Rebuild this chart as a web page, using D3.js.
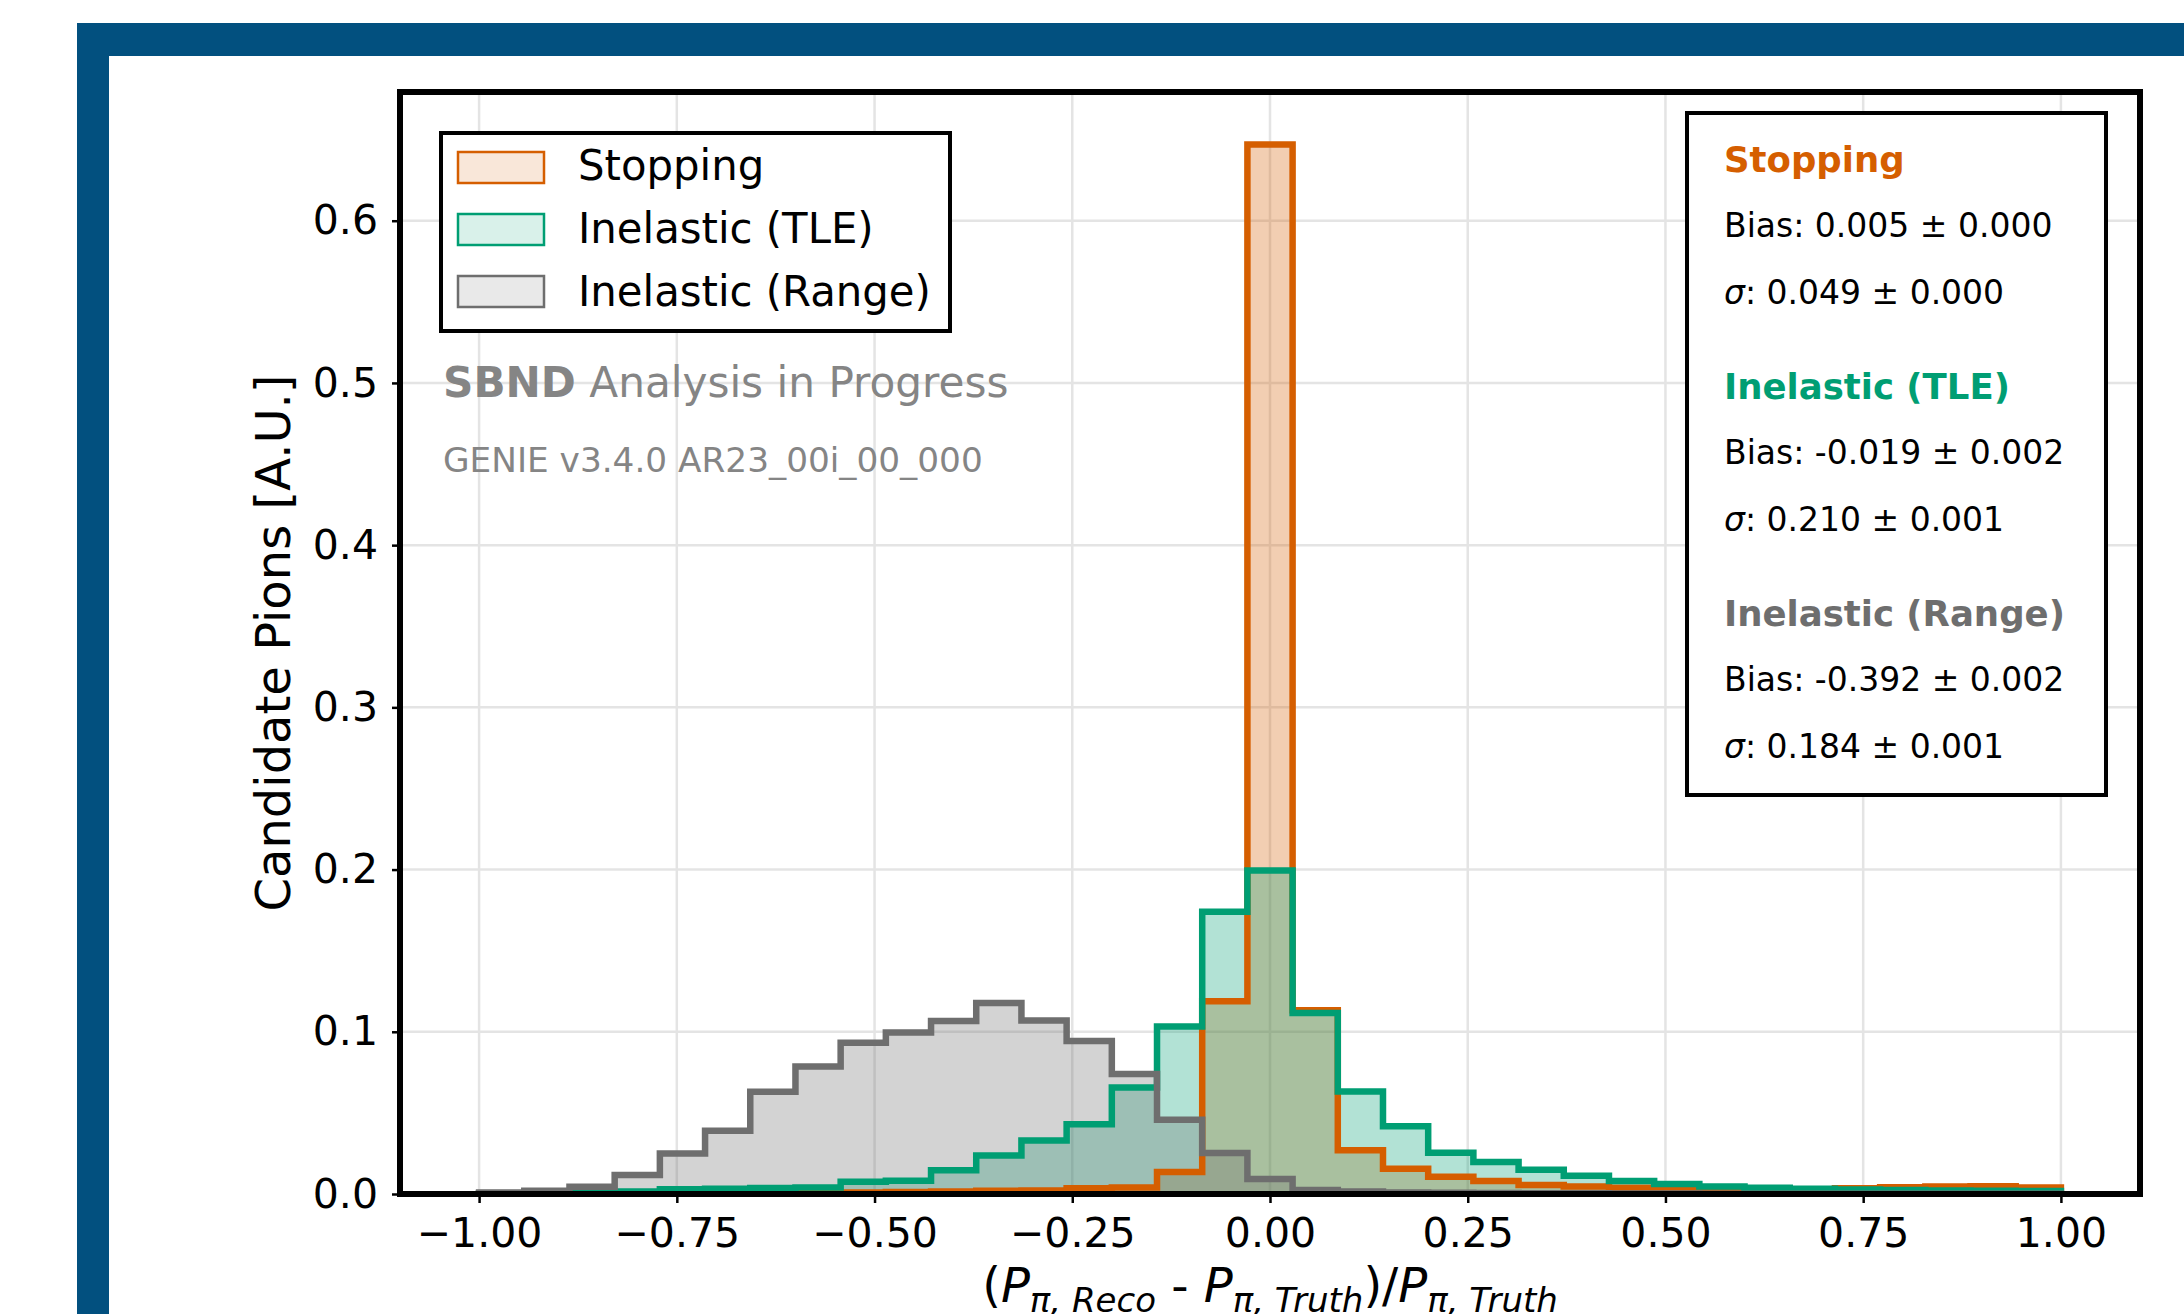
<!DOCTYPE html>
<head>
  <meta charset="utf-8">
  <script src="https://d3js.org/d3.v7.min.js"></script>
  <style>
    body { margin:0; background:#fff; }
    svg { display:block; font-family:"DejaVu Sans", sans-serif; }
    .tick text { font-size:41px; fill:#000; font-family:"DejaVu Sans", sans-serif; }
    .tick line { stroke:#000; stroke-width:2.5px; }
    .grid line { stroke:#e4e4e4; stroke-width:2.5px; }
  </style>
</head>

<body>
  <script>
    // histogram binning: 35 bins between -1 and 1
    var binLo = -1, binHi = 1, nBins = 35;

    var stopping = [0.0003, 0.0003, 0.0004, 0.0004, 0.0005, 0.0005, 0.0006, 0.0008, 0.001, 0.0012,
                    0.0015, 0.002, 0.0022, 0.0035, 0.004, 0.0135, 0.1188, 0.647, 0.1132, 0.0269,
                    0.0156, 0.0107, 0.008, 0.0055, 0.0047, 0.0039, 0.003, 0.0025, 0.0022, 0.0025,
                    0.0035, 0.0042, 0.0047, 0.0048, 0.004];
    var tle = [0.0005, 0.0008, 0.001, 0.0015, 0.003, 0.0033, 0.0037, 0.004, 0.0076, 0.0082,
               0.0146, 0.0238, 0.033, 0.043, 0.0657, 0.1032, 0.174, 0.1994, 0.1116, 0.0632,
               0.0417, 0.0254, 0.0197, 0.015, 0.0113, 0.008, 0.0062, 0.0047, 0.0039, 0.0033,
               0.0027, 0.0025, 0.0022, 0.002, 0.0018];
    var range = [0.001, 0.002, 0.0045, 0.0117, 0.025, 0.039, 0.063, 0.0786, 0.0932, 0.0995,
                 0.1066, 0.1177, 0.107, 0.0943, 0.074, 0.0457, 0.0252, 0.0092, 0.0025, 0.0015,
                 0.001, 0.0008, 0.0006, 0.0005, 0.0004, 0.0003, 0.0003, 0.0002, 0.0002, 0.0002,
                 0.0002, 0.0001, 0.0001, 0.0001, 0.0001];

    var seriesNames = ["Stopping", "Inelastic (TLE)", "Inelastic (Range)"];
    var seriesColors = ["#d55e00", "#009e73", "#6e6e6e"];
    var statsBias = ["0.005 ± 0.000", "-0.019 ± 0.002", "-0.392 ± 0.002"];
    var statsSigma = ["0.049 ± 0.000", "0.210 ± 0.001", "0.184 ± 0.001"];

    var xTicks = [-1, -0.75, -0.5, -0.25, 0, 0.25, 0.5, 0.75, 1];
    var yTicks = [0, 0.1, 0.2, 0.3, 0.4, 0.5, 0.6];

    var W = 2184, H = 1314;
    var frameBlue = "#02507f";
    var plot = {left: 400, right: 2140, top: 92, bottom: 1194};

    var svg = d3.select("body").append("svg")
      .attr("width", W)
      .attr("height", H);

    svg.append("rect").attr("width", W).attr("height", H).attr("fill", "#fff");

    // poster frame
    svg.append("rect").attr("x", 77).attr("y", 23).attr("width", W - 77).attr("height", 33).attr("fill", frameBlue);
    svg.append("rect").attr("x", 77).attr("y", 23).attr("width", 32).attr("height", H - 23).attr("fill", frameBlue);

    var x = d3.scaleLinear()
        .domain([-1.1, 1.1])
        .range([plot.left, plot.right]);

    var y = d3.scaleLinear()
        .domain([0, d3.max(stopping) * 1.05])
        .range([plot.bottom, plot.top]);

    // grid
    var grid = svg.append("g").attr("class", "grid");
    grid.selectAll("line.gx").data(xTicks).enter().append("line")
      .attr("x1", function(d) { return x(d); })
      .attr("x2", function(d) { return x(d); })
      .attr("y1", plot.top)
      .attr("y2", plot.bottom);
    grid.selectAll("line.gy").data(yTicks).enter().append("line")
      .attr("x1", plot.left)
      .attr("x2", plot.right)
      .attr("y1", function(d) { return y(d); })
      .attr("y2", function(d) { return y(d); });

    var edges = d3.range(nBins + 1).map(function(i) { return binLo + i * (binHi - binLo) / nBins; });

    function stepPoints(vals) {
      var pts = [[edges[0], 0]];
      vals.forEach(function(v, i) {
        pts.push([edges[i], v]);
        pts.push([edges[i + 1], v]);
      });
      pts.push([edges[nBins], 0]);
      return pts;
    }

    var line = d3.line()
      .x(function(d) { return x(d[0]); })
      .y(function(d) { return y(d[1]); });

    var series = [stopping, tle, range];

    // fills first, then outlines on top
    svg.append("g").selectAll("path").data(series).enter()
      .append("path")
      .attr("d", function(d) { return line(stepPoints(d)); })
      .attr("fill", function(d, i) { return seriesColors[i]; })
      .attr("fill-opacity", 0.3)
      .attr("stroke", "none");

    svg.append("g").selectAll("path").data(series).enter()
      .append("path")
      .attr("d", function(d) { return line(stepPoints(d)); })
      .attr("fill", "none")
      .attr("stroke", function(d, i) { return seriesColors[i]; })
      .attr("stroke-width", 6.5)
      .attr("stroke-linejoin", "miter");

    // axes
    var xAxis = d3.axisBottom(x)
      .tickValues(xTicks)
      .tickFormat(d3.format(".2f"))
      .tickSizeInner(9)
      .tickSizeOuter(0)
      .tickPadding(15);
    svg.append("g")
      .attr("transform", "translate(0," + plot.bottom + ")")
      .call(xAxis)
      .call(function(g) { g.select(".domain").remove(); });

    var yAxis = d3.axisLeft(y)
      .tickValues(yTicks)
      .tickFormat(d3.format(".1f"))
      .tickSizeInner(8)
      .tickSizeOuter(0)
      .tickPadding(14);
    svg.append("g")
      .attr("transform", "translate(" + plot.left + ",0)")
      .call(yAxis)
      .call(function(g) { g.select(".domain").remove(); });

    svg.append("rect")
      .attr("x", plot.left).attr("y", plot.top)
      .attr("width", plot.right - plot.left).attr("height", plot.bottom - plot.top)
      .attr("fill", "none").attr("stroke", "#000").attr("stroke-width", 6);

    // axis titles
    svg.append("text")
      .attr("transform", "translate(290," + (plot.top + plot.bottom) / 2 + ") rotate(-90)")
      .attr("text-anchor", "middle")
      .attr("font-size", 48)
      .text("Candidate Pions [A.U.]");

    var subSize = 34, subShift = 10;
    var xl = svg.append("text")
      .attr("x", (plot.left + plot.right) / 2)
      .attr("y", 1302)
      .attr("text-anchor", "middle")
      .attr("font-size", 48);
    function sub(t, a, b) {
      t.append("tspan").attr("font-style", "italic").text("P");
      t.append("tspan").attr("font-size", subSize).attr("dy", subShift).attr("font-style", "italic").text("\u03c0, " + a);
      if (b) t.append("tspan").attr("dy", -subShift).text(b);
    }
    xl.append("tspan").text("(");
    sub(xl, "Reco", " - ");
    sub(xl, "Truth", ")/");
    sub(xl, "Truth", null);

    // legend
    var legend = svg.append("g");
    legend.append("rect")
      .attr("x", 441).attr("y", 133).attr("width", 509).attr("height", 198)
      .attr("fill", "#fff").attr("stroke", "#000").attr("stroke-width", 4);
    var items = legend.selectAll("g.item").data(seriesNames).enter().append("g");
    items.append("rect")
      .attr("x", 458)
      .attr("y", function(d, i) { return 152 + i * 62; })
      .attr("width", 86).attr("height", 31)
      .attr("fill", function(d, i) { return seriesColors[i]; })
      .attr("fill-opacity", 0.15)
      .attr("stroke", function(d, i) { return seriesColors[i]; })
      .attr("stroke-width", 2.5);
    items.append("text")
      .attr("x", 578)
      .attr("y", function(d, i) { return 180 + i * 63; })
      .attr("font-size", 41.8)
      .text(function(d) { return d; });

    // experiment label
    var sb = svg.append("text").attr("x", 443).attr("y", 397).attr("font-size", 42.2).attr("fill", "#858585");
    sb.append("tspan").attr("font-weight", "bold").text("SBND");
    sb.append("tspan").text(" Analysis in Progress");
    svg.append("text").attr("x", 443).attr("y", 472).attr("font-size", 34.3).attr("fill", "#858585")
      .text("GENIE v3.4.0 AR23_00i_00_000");

    // stats box
    svg.append("rect")
      .attr("x", 1687).attr("y", 113).attr("width", 419).attr("height", 682)
      .attr("fill", "#fff").attr("stroke", "#000").attr("stroke-width", 4);
    var st = svg.append("g").selectAll("g").data(seriesNames).enter().append("g")
      .attr("transform", function(d, i) { return "translate(1724," + (172 + i * 227) + ")"; });
    st.append("text")
      .attr("font-size", 35.5).attr("font-weight", "bold")
      .attr("fill", function(d, i) { return seriesColors[i]; })
      .text(function(d) { return d; });
    st.append("text")
      .attr("y", 65).attr("font-size", 33)
      .text(function(d, i) { return "Bias: " + statsBias[i]; });
    var sig = st.append("text").attr("y", 132).attr("font-size", 33);
    sig.append("tspan").attr("font-style", "italic").text("\u03c3");
    sig.append("tspan").text(function(d, i) { return ": " + statsSigma[i]; });
  </script>
</body>
